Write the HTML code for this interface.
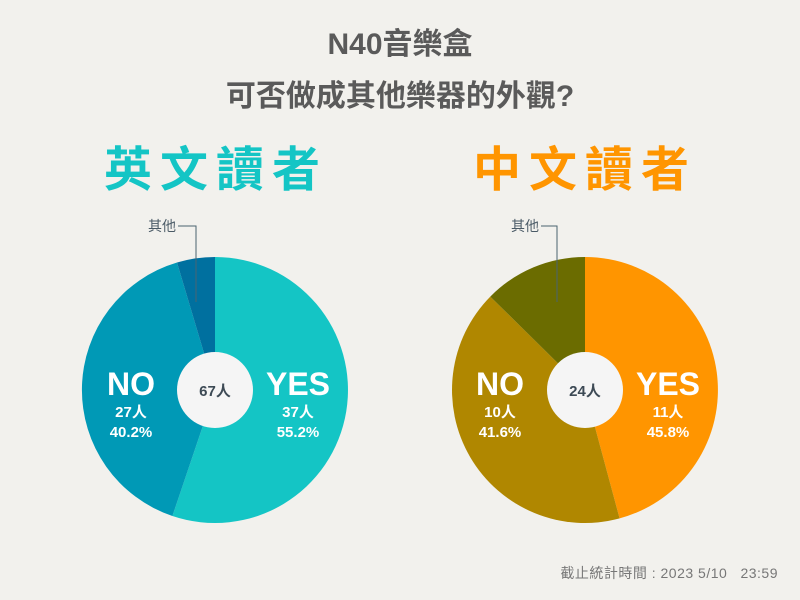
<!DOCTYPE html>
<html><head><meta charset="utf-8"><style>
body{margin:0;background:#f2f1ed;}
svg{display:block;font-family:"Liberation Sans","Noto Sans CJK TC",sans-serif;}
</style></head><body>
<svg width="800" height="600" viewBox="0 0 800 600">
<rect width="800" height="600" fill="#f2f1ed"/>
<text x="400" y="54" text-anchor="middle" font-size="30" font-weight="bold" fill="#5a5a5a">N40音樂盒</text>
<text x="400" y="106" text-anchor="middle" font-size="30" font-weight="bold" fill="#5a5a5a">可否做成其他樂器的外觀?</text>
<text x="216" y="186" text-anchor="middle" font-size="48" font-weight="bold" fill="#14c5c5" letter-spacing="8">英文讀者</text>
<text x="585" y="186" text-anchor="middle" font-size="48" font-weight="bold" fill="#ff9500" letter-spacing="8">中文讀者</text>

<path d="M215 390 L215 257 A133 133 0 1 1 172.4 516 Z" fill="#14c5c5"/>
<path d="M215 390 L172.4 516 A133 133 0 0 1 177 262.5 Z" fill="#0099b6"/>
<path d="M215 390 L177 262.5 A133 133 0 0 1 215 257 Z" fill="#00709f"/>
<circle cx="215" cy="390" r="38" fill="#f5f5f5"/>
<polyline points="178,226 196,226 196,302" fill="none" stroke="#4a6470" stroke-width="1"/>
<text x="176" y="231" text-anchor="end" font-size="14" fill="#4a5a66">其他</text>
<text x="215" y="396" text-anchor="middle" font-size="15" font-weight="bold" fill="#3d4a55">67人</text>
<text x="131" y="395" text-anchor="middle" font-size="32" font-weight="bold" fill="#fff">NO</text>
<text x="131" y="417" text-anchor="middle" font-size="15" font-weight="bold" fill="#fff">27人</text>
<text x="131" y="437" text-anchor="middle" font-size="15" font-weight="bold" fill="#fff">40.2%</text>
<text x="298" y="395" text-anchor="middle" font-size="32" font-weight="bold" fill="#fff">YES</text>
<text x="298" y="417" text-anchor="middle" font-size="15" font-weight="bold" fill="#fff">37人</text>
<text x="298" y="437" text-anchor="middle" font-size="15" font-weight="bold" fill="#fff">55.2%</text>

<path d="M585 390 L585 257 A133 133 0 0 1 619.6 518.4 Z" fill="#ff9500"/>
<path d="M585 390 L619.6 518.4 A133 133 0 0 1 490.3 296.6 Z" fill="#b08700"/>
<path d="M585 390 L490.3 296.6 A133 133 0 0 1 585 257 Z" fill="#6b6c00"/>
<circle cx="585" cy="390" r="38" fill="#f5f5f5"/>
<polyline points="541,226 557,226 557,302" fill="none" stroke="#4a6470" stroke-width="1"/>
<text x="539" y="231" text-anchor="end" font-size="14" fill="#4a5a66">其他</text>
<text x="585" y="396" text-anchor="middle" font-size="15" font-weight="bold" fill="#3d4a55">24人</text>
<text x="500" y="395" text-anchor="middle" font-size="32" font-weight="bold" fill="#fff">NO</text>
<text x="500" y="417" text-anchor="middle" font-size="15" font-weight="bold" fill="#fff">10人</text>
<text x="500" y="437" text-anchor="middle" font-size="15" font-weight="bold" fill="#fff">41.6%</text>
<text x="668" y="395" text-anchor="middle" font-size="32" font-weight="bold" fill="#fff">YES</text>
<text x="668" y="417" text-anchor="middle" font-size="15" font-weight="bold" fill="#fff">11人</text>
<text x="668" y="437" text-anchor="middle" font-size="15" font-weight="bold" fill="#fff">45.8%</text>

<text x="778" y="578" text-anchor="end" font-size="14" fill="#777" letter-spacing="0.5" xml:space="preserve">截止統計時間 : 2023 5/10   23:59</text>
</svg>
</body></html>
